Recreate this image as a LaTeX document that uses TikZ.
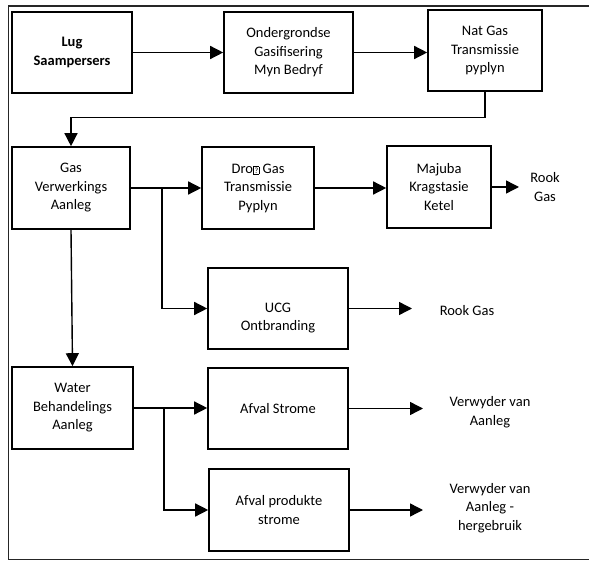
\documentclass[tikz,border=0pt]{standalone}
\usepackage{fontspec}
\setmainfont{Carlito}
\usetikzlibrary{arrows.meta,calc}
\begin{document}
\begin{tikzpicture}[x=1pt,y=-1pt,
  box/.style={draw,line width=1.6pt,minimum width=#1,inner sep=0pt,align=center,font=\fontsize{14.5}{18.5}\selectfont},
  lbl/.style={align=center,inner sep=0pt,font=\fontsize{14.5}{18.5}\selectfont},
  conn/.style={line width=1.4pt,-{Triangle[length=13pt,width=13pt]}},
  plain/.style={line width=1.4pt}]
\useasboundingbox (0,0) rectangle (589,561);
\draw[line width=1.2pt,black!85] (590,6) -- (8.5,6) -- (8.5,559.5) -- (590,559.5);
% nodes
\node[box=120pt,minimum height=81pt] (lug) at (72,52.5) {\textbf{Lug}\\\textbf{Saampersers}};
\node[box=129pt,minimum height=81pt] (ond) at (288.5,52.5) {Ondergrondse\\Gasifisering\\Myn Bedryf};
\node[box=114pt,minimum height=81pt] (nat) at (485,50.5) {Nat Gas\\Transmissie\\pyplyn};
\node[box=118pt,minimum height=82pt] (gas) at (71,188) {Gas\\Verwerkings\\Aanleg};
\node[box=112pt,minimum height=82pt] (dro) at (258,188) {Dro\kern0.5pt{\setlength{\fboxsep}{0.6pt}\setlength{\fboxrule}{0.5pt}\fbox{\fontsize{8}{8}\selectfont ?}} Gas\\Transmissie\\Pyplyn};
\node[box=104pt,minimum height=82pt] (maj) at (439,187) {Majuba\\Kragstasie\\Ketel};
\node[box=140pt,minimum height=81pt] (ucg) at (278,308.5) {\\[10pt]UCG\\Ontbranding};
\node[box=121pt,minimum height=82pt] (wat) at (72.5,408) {Water\\Behandelings\\Aanleg};
\node[box=140pt,minimum height=81pt] (afs) at (278,408.5) {Afval Strome};
\node[box=140pt,minimum height=82pt] (afp) at (279,510) {Afval produkte\\strome};
\node[lbl] (rook1) at (545,187) {Rook\\Gas};
\node[lbl] (rook2) at (467,311) {Rook Gas};
\node[lbl] (ver1) at (490,412) {Verwyder van\\Aanleg};
\node[lbl] (ver2) at (490,508) {Verwyder van\\Aanleg -\\hergebruik};
% coordinates
\coordinate (b1) at (162,188);
\coordinate (b2) at (164,408);
\coordinate (e1) at (519,187);
\coordinate (e2) at (412,308.5);
\coordinate (e3) at (423,408.5);
\coordinate (e4) at (423,510);
% connectors
\draw[conn] (lug.east) -- (ond.west);
\draw[conn] (ond.east) -- (ond.east -| nat.west);
\draw[conn] (nat.south) -- ++(0,26) -| (gas.north);
\draw[conn] (gas.east) -- (dro.west);
\draw[conn] (b1) |- (ucg.west);
\draw[conn] (dro.east) -- (dro.east -| maj.west);
\draw[conn] (maj.east) -- (e1);
\draw[conn] (ucg.east) -- (e2);
\draw[conn] (gas.south) -- (wat.north);
\draw[conn] (wat.east) -- (wat.east -| afs.west);
\draw[conn] (b2) |- (afp.west);
\draw[conn] (afs.east) -- (e3);
\draw[conn] (afp.east) -- (e4);
\end{tikzpicture}
\end{document}
